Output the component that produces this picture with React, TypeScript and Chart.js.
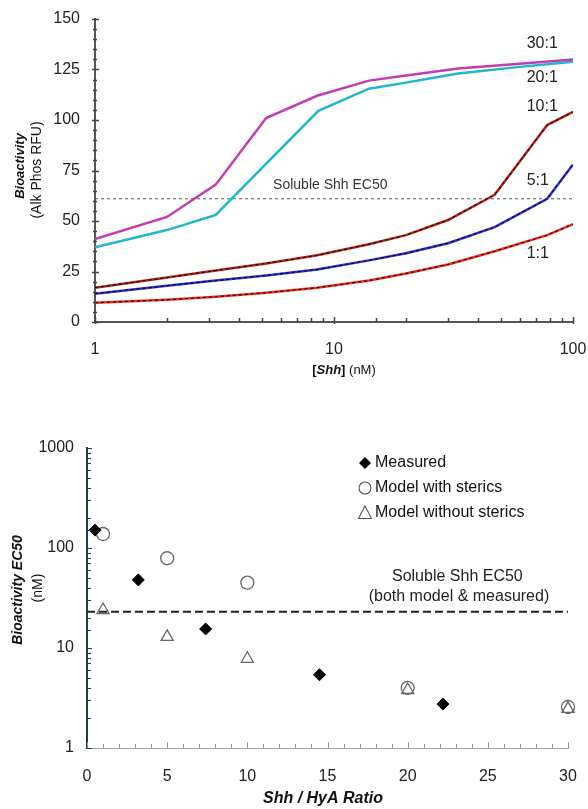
import React, { useEffect, useRef } from 'react';
import { Chart, registerables } from 'chart.js';
Chart.register(...registerables);

const FONT = '"Liberation Sans", Arial, sans-serif';

// ---------- Top chart data ----------
const shhConc = [1, 2, 3.2, 5.2, 8.5, 14, 20, 30, 47, 78, 100];
const ratio30X = [1, 2, 3.2, 5.2, 8.5, 14, 20, 33, 60, 100];
const ratio30Y = [41, 52, 68, 101, 112, 119.5, 122, 125.5, 127.8, 130];
const ratio20X = [1, 2, 3.2, 8.6, 14, 20, 33, 60, 100];
const ratio20Y = [37, 45.5, 53, 104.5, 115.5, 118.5, 123, 126.3, 128.9];
const ratio10Y = [17, 22, 25.5, 29, 33, 38.5, 43, 50.5, 63, 97.5, 104];
const ratio5Y = [14, 18, 20.5, 23, 26, 30.5, 34, 39, 47, 61, 78];
const ratio1Y = [9.5, 11, 12.5, 14.5, 17, 20.5, 24, 28.5, 35, 43, 48.5];
const solubleEC50Top = 61;
const topYMax = 150;
const topYLabelStep = 25;
const topYMinorStep = 5;
const curveLabels = ['30:1', '20:1', '10:1', '5:1', '1:1'];
const curveLabelX = [64, 64, 64, 64, 64];
const curveLabelY = [138, 121, 106.5, 70, 34];

// ---------- Bottom chart data ----------
const measuredX = [0.5, 3.2, 7.4, 14.5, 22.2];
const measuredY = [151, 48, 15.5, 5.4, 2.75];
const stericX = [1, 5, 10, 20, 30];
const stericY = [138, 79, 45, 4.0, 2.57];
const noStericX = [1, 5, 10, 20, 30];
const noStericY = [24, 12.9, 7.8, 3.8, 2.46];
const solubleEC50Bottom = 23;
const ratioMax = 30;
const ratioLabelStep = 5;
const legendLabels = ['Measured', 'Model with sterics', 'Model without sterics'];

const pts = (xs: number[], ys: number[]) => xs.map((x, i) => ({ x, y: ys[i] }));
const isDecade = (v: number) => Math.abs(Math.log10(v) - Math.round(Math.log10(v))) < 1e-6;

type Seg = { text: string; font: string };
function drawRich(ctx: CanvasRenderingContext2D, segs: Seg[], cx: number, cy: number, rotate = false, color = '#111') {
  ctx.save();
  ctx.translate(cx, cy);
  if (rotate) ctx.rotate(-Math.PI / 2);
  ctx.fillStyle = color;
  ctx.textBaseline = 'middle';
  ctx.textAlign = 'left';
  let total = 0;
  for (const s of segs) { ctx.font = s.font; total += ctx.measureText(s.text).width; }
  let x = -total / 2;
  for (const s of segs) { ctx.font = s.font; ctx.fillText(s.text, x, 0); x += ctx.measureText(s.text).width; }
  ctx.restore();
}

type TickSpec = { axis: string; isMajor: (v: number) => boolean; major: [number, number]; minor: [number, number]; color: string; width: number };
function tickPlugin(specs: TickSpec[]) {
  return {
    id: 'customTicks',
    afterDatasetsDraw(chart: any) {
      const ctx = chart.ctx;
      ctx.save();
      for (const sp of specs) {
        const s = chart.scales[sp.axis];
        ctx.strokeStyle = sp.color;
        ctx.lineWidth = sp.width;
        for (const t of s.ticks) {
          const p = Math.round(s.getPixelForValue(t.value)) + 0.5;
          const [a, b] = sp.isMajor(t.value) ? sp.major : sp.minor;
          ctx.beginPath();
          if (sp.axis === 'y') { const x0 = s.right; ctx.moveTo(x0 + a, p); ctx.lineTo(x0 + b, p); }
          else { const y0 = s.top; ctx.moveTo(p, y0 + a); ctx.lineTo(p, y0 + b); }
          ctx.stroke();
        }
      }
      ctx.restore();
    },
  };
}

const fixX = (h: number) => (s: any) => { s.height = h; s.paddingLeft = 0; s.paddingRight = 0; };
const fixY = (w: number) => (s: any) => { s.width = w; s.paddingTop = 0; s.paddingBottom = 0; };

function TopChart() {
  const ref = useRef<HTMLCanvasElement>(null);
  useEffect(() => {
    const overlay = (ys: number[]) => ({
      data: pts(shhConc, ys), borderColor: '#000', borderWidth: 1, borderDash: [3, 3], pointRadius: 0, order: 0,
    });
    const textPlugin = {
      id: 'topText',
      afterDraw(chart: any) {
        const ctx = chart.ctx as CanvasRenderingContext2D;
        const xs = chart.scales.x, ys = chart.scales.y;
        ctx.save();
        ctx.fillStyle = '#222';
        ctx.font = `16px ${FONT}`;
        ctx.textBaseline = 'middle';
        curveLabels.forEach((l, i) => ctx.fillText(l, xs.getPixelForValue(curveLabelX[i]), ys.getPixelForValue(curveLabelY[i])));
        ctx.font = `14px ${FONT}`;
        ctx.fillStyle = '#333';
        ctx.fillText('Soluble Shh EC50', xs.getPixelForValue(5.56), ys.getPixelForValue(solubleEC50Top) - 14);
        ctx.restore();
        drawRich(ctx, [{ text: 'Bioactivity', font: `italic bold 13px ${FONT}` }], 20, 166, true);
        drawRich(ctx, [{ text: '(Alk Phos RFU)', font: `14px ${FONT}` }], 37, 170, true);
        drawRich(ctx, [
          { text: '[', font: `bold 13px ${FONT}` },
          { text: 'Shh', font: `italic bold 13px ${FONT}` },
          { text: ']', font: `bold 13px ${FONT}` },
          { text: ' (nM)', font: `13px ${FONT}` },
        ], 344, 370, false);
      },
    };
    const chart = new Chart(ref.current!, {
      type: 'line',
      data: {
        datasets: [
          { data: pts(ratio30X, ratio30Y), borderColor: '#c43cb2', borderWidth: 2.5, pointRadius: 0, order: 1 },
          { data: pts(ratio20X, ratio20Y), borderColor: '#1fb8c8', borderWidth: 2.5, pointRadius: 0, order: 1 },
          { data: pts(shhConc, ratio10Y), borderColor: '#b02418', borderWidth: 2.5, pointRadius: 0, order: 1 },
          { data: pts(shhConc, ratio5Y), borderColor: '#2e2ccc', borderWidth: 2.5, pointRadius: 0, order: 1 },
          { data: pts(shhConc, ratio1Y), borderColor: '#f02a1e', borderWidth: 2.5, pointRadius: 0, order: 1 },
          overlay(ratio10Y), overlay(ratio5Y), overlay(ratio1Y),
          { data: [{ x: 1, y: solubleEC50Top }, { x: 100, y: solubleEC50Top }], borderColor: '#4a5a5a', borderWidth: 1, borderDash: [3, 3], pointRadius: 0, order: 2 },
        ] as any,
      },
      options: {
        responsive: false,
        animation: false,
        events: [],
        layout: { padding: { top: 19, right: 15, left: 0, bottom: 0 } },
        plugins: { legend: { display: false }, tooltip: { enabled: false } },
        scales: {
          x: {
            type: 'logarithmic', min: 1, max: 100,
            grid: { display: false, drawTicks: false },
            border: { display: true, color: '#555', width: 2 },
            ticks: { autoSkip: false, maxRotation: 0, padding: 18, color: '#222', font: { family: FONT, size: 16 },
              callback: (v: any) => (isDecade(Number(v)) ? String(Number(v)) : '') },
            afterFit: fixX(73),
          },
          y: {
            min: 0, max: topYMax,
            grid: { display: false, drawTicks: false },
            border: { display: true, color: '#555', width: 2 },
            ticks: { stepSize: topYMinorStep, autoSkip: false, padding: 15, color: '#222', font: { family: FONT, size: 16 },
              callback: (v: any) => (Number(v) % topYLabelStep === 0 ? String(v) : '') },
            afterFit: fixY(95),
          },
        },
      } as any,
      plugins: [
        tickPlugin([
          { axis: 'x', isMajor: isDecade, major: [-5, 2], minor: [-4, 1], color: '#444', width: 1.5 },
          { axis: 'y', isMajor: (v) => v % topYLabelStep === 0, major: [-3, 4], minor: [-2, 2], color: '#444', width: 1.5 },
        ]),
        textPlugin,
      ] as any,
    });
    return () => chart.destroy();
  }, []);
  return <canvas ref={ref} width={588} height={395} style={{ position: 'absolute', left: 0, top: 0, display: 'block' }} />;
}

function BottomChart() {
  const ref = useRef<HTMLCanvasElement>(null);
  useEffect(() => {
    const textPlugin = {
      id: 'bottomText',
      afterDraw(chart: any) {
        const ctx = chart.ctx as CanvasRenderingContext2D;
        const xs = chart.scales.x, ys = chart.scales.y;
        drawRich(ctx, [{ text: 'Soluble Shh EC50', font: `16px ${FONT}` }], xs.getPixelForValue(23.1), ys.getPixelForValue(solubleEC50Bottom) - 35, false, '#222');
        drawRich(ctx, [{ text: '(both model & measured)', font: `16px ${FONT}` }], xs.getPixelForValue(23.2), ys.getPixelForValue(solubleEC50Bottom) - 15, false, '#222');
        drawRich(ctx, [{ text: 'Bioactivity EC50', font: `italic bold 14px ${FONT}` }], 18, 195, true);
        drawRich(ctx, [{ text: '(nM)', font: `14px ${FONT}` }], 38, 193, true);
        drawRich(ctx, [{ text: 'Shh / HyA Ratio', font: `italic bold 16px ${FONT}` }], 323, 404, false);
        // legend
        ctx.save();
        const lx = 365, ly = [68, 93, 118];
        ctx.font = `16px ${FONT}`;
        ctx.fillStyle = '#111';
        ctx.textBaseline = 'middle';
        legendLabels.forEach((l, i) => ctx.fillText(l, lx + 10, ly[i]));
        ctx.fillStyle = '#000';
        ctx.beginPath();
        ctx.moveTo(lx - 6, ly[0]); ctx.lineTo(lx, ly[0] - 6); ctx.lineTo(lx + 6, ly[0]); ctx.lineTo(lx, ly[0] + 6); ctx.closePath();
        ctx.fill();
        ctx.strokeStyle = '#555'; ctx.lineWidth = 1.1;
        ctx.beginPath(); ctx.arc(lx, ly[1], 6, 0, Math.PI * 2); ctx.stroke();
        ctx.beginPath();
        ctx.moveTo(lx, ly[2] - 7); ctx.lineTo(lx + 6.5, ly[2] + 5.5); ctx.lineTo(lx - 6.5, ly[2] + 5.5); ctx.closePath(); ctx.stroke();
        ctx.restore();
      },
    };
    const chart = new Chart(ref.current!, {
      type: 'scatter',
      data: {
        datasets: [
          { data: pts(measuredX, measuredY), pointStyle: 'rectRot', pointRadius: 6, backgroundColor: '#000', borderColor: '#000', borderWidth: 1, clip: false },
          { data: pts(stericX, stericY), pointStyle: 'circle', pointRadius: 6.5, backgroundColor: 'rgba(255,255,255,0)', borderColor: '#666', borderWidth: 1.3, clip: false },
          { data: pts(noStericX, noStericY), pointStyle: 'triangle', pointRadius: 7, backgroundColor: 'rgba(255,255,255,0)', borderColor: '#666', borderWidth: 1.3, clip: false },
          { data: [{ x: 0, y: solubleEC50Bottom }, { x: ratioMax, y: solubleEC50Bottom }], showLine: true, borderColor: '#222', borderWidth: 2, borderDash: [8, 4], pointRadius: 0 },
        ] as any,
      },
      options: {
        responsive: false,
        animation: false,
        events: [],
        layout: { padding: { top: 53, right: 20, left: 0, bottom: 0 } },
        plugins: { legend: { display: false }, tooltip: { enabled: false } },
        scales: {
          x: {
            type: 'linear', min: 0, max: ratioMax,
            grid: { display: false, drawTicks: false },
            border: { display: true, color: '#9aa6ae', width: 1 },
            ticks: { stepSize: 1, autoSkip: false, maxRotation: 0, padding: 19, color: '#222', font: { family: FONT, size: 16 },
              callback: (v: any) => (Number(v) % ratioLabelStep === 0 ? String(v) : '') },
            afterFit: fixX(61),
          },
          y: {
            type: 'logarithmic', min: 1, max: 1000,
            grid: { display: false, drawTicks: false },
            border: { display: true, color: '#2a3a44', width: 2 },
            ticks: { autoSkip: false, padding: 13, color: '#222', font: { family: FONT, size: 16 },
              callback: (v: any) => (isDecade(Number(v)) ? String(Number(v)) : '') },
            afterFit: fixY(87),
          },
        },
      } as any,
      plugins: [
        tickPlugin([
          { axis: 'x', isMajor: (v) => v % ratioLabelStep === 0, major: [-6, 0], minor: [-4, 0], color: '#8a969e', width: 1 },
          { axis: 'y', isMajor: isDecade, major: [0, 5], minor: [0, 4], color: '#2a3a44', width: 1 },
        ]),
        textPlugin,
      ] as any,
    });
    return () => chart.destroy();
  }, []);
  return <canvas ref={ref} width={588} height={414} style={{ position: 'absolute', left: 0, top: 395, display: 'block' }} />;
}

export default function App() {
  return (
    <div style={{ position: 'fixed', left: 0, top: 0, width: 588, height: 809, background: '#fff' }}>
      <TopChart />
      <BottomChart />
    </div>
  );
}
